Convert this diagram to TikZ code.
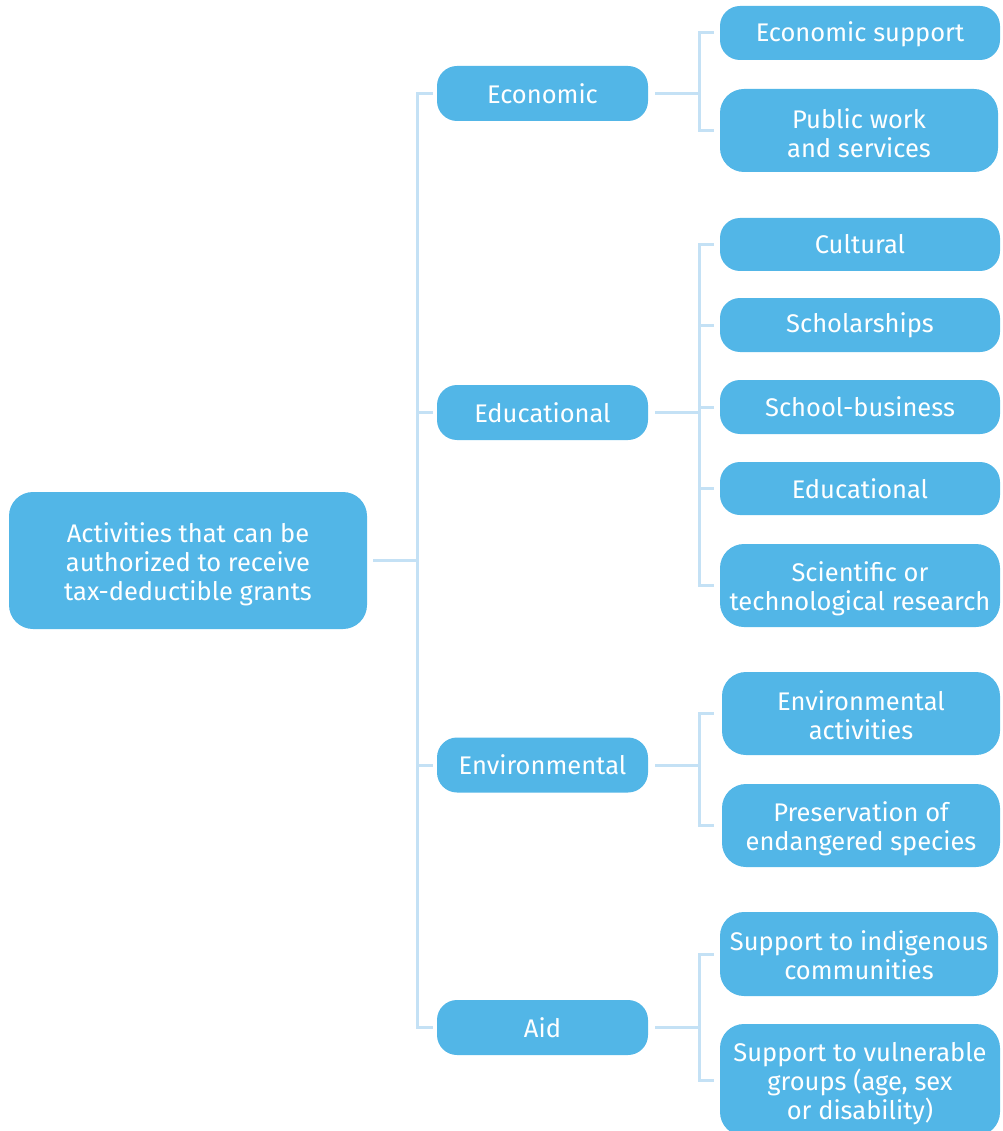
\documentclass[tikz,border=0pt]{standalone}
\usepackage{fontspec}
\setmainfont{Fira Sans}
\definecolor{boxblue}{HTML}{52B6E7}
\definecolor{linkblue}{HTML}{C4E1F5}
\newcommand\liftto[1]{\rule{0pt}{#1}}
\begin{document}
\begin{tikzpicture}[x=1pt,y=-1pt,
  box/.style={fill=boxblue, text=white, align=center, inner sep=0pt,
    font=\fontsize{25.5}{29}\selectfont, rounded corners=20pt},
  conn/.style={draw=linkblue, line width=3pt, line join=miter}]
\useasboundingbox (0,0) rectangle (1002,1131);
% root
\node[box, minimum width=358pt, minimum height=137pt, rounded corners=24pt] (root) at (188,560.5)
  {\liftto{28pt}Activities that can be\\authorized to receive\\tax-deductible grants};
% level 1
\node[box, minimum width=211pt, minimum height=55pt] (econ) at (542.5,93.5) {Economic};
\node[box, minimum width=211pt, minimum height=55pt] (edu) at (542.5,412.5) {Educational};
\node[box, minimum width=211pt, minimum height=55pt] (env) at (542.5,765) {Environmental};
\node[box, minimum width=211pt, minimum height=55pt] (aid) at (542.5,1027.5) {Aid};
% level 2
\node[box, minimum width=280pt, minimum height=54pt] (ecsup) at (860,33) {\liftto{23pt}Economic support};
\node[box, minimum width=278pt, minimum height=83pt, rounded corners=24pt] (pubw) at (859,130.5) {\liftto{25pt}Public work\\and services};
\node[box, minimum width=280pt, minimum height=53pt] (cult) at (860,244.5) {Cultural};
\node[box, minimum width=280pt, minimum height=54pt] (schol) at (860,325) {Scholarships};
\node[box, minimum width=280pt, minimum height=54pt] (schb) at (860,407) {School-business};
\node[box, minimum width=280pt, minimum height=53pt] (educ) at (860,488.5) {Educational};
\node[box, minimum width=280pt, minimum height=83pt, rounded corners=24pt] (sci) at (860,585.5) {\liftto{27pt}Scientific or\\technological research};
\node[box, minimum width=278pt, minimum height=83pt, rounded corners=24pt] (enva) at (861,713.5) {\liftto{23pt}Environmental\\activities};
\node[box, minimum width=278pt, minimum height=83pt, rounded corners=24pt] (pres) at (861,825.5) {\liftto{27pt}Preservation of\\endangered species};
\node[box, minimum width=278pt, minimum height=84pt, rounded corners=24pt] (indig) at (859,954) {\liftto{23pt}Support to indigenous\\communities};
\node[box, minimum width=280pt, minimum height=112pt, rounded corners=24pt] (vuln) at (860,1080) {\liftto{27pt}Support to vulnerable\\groups (age, sex\\or disability)};
% connector coordinates
\coordinate (tx) at (417,0);
\coordinate (bx) at (699,0);
% trunk
\draw[conn] ([xshift=6pt]root.east) -- (root.east -| tx);
\draw[conn] ([xshift=-4pt]econ.west) -- (econ.west -| tx) -- (aid.west -| tx) -- ([xshift=-4pt]aid.west);
\draw[conn] ([xshift=-4pt]edu.west) -- (edu.west -| tx);
\draw[conn] ([xshift=-4pt]env.west) -- (env.west -| tx);
% economic
\draw[conn] ([xshift=7pt]econ.east) -- (econ.east -| bx);
\draw[conn] ([xshift=-6pt]ecsup.west) -- (ecsup.west -| bx) -- (pubw.west -| bx) -- ([xshift=-6pt]pubw.west);
% educational
\draw[conn] ([xshift=7pt]edu.east) -- (edu.east -| bx);
\draw[conn] ([xshift=-6pt]cult.west) -- (cult.west -| bx) -- (sci.west -| bx) -- ([xshift=-6pt]sci.west);
\draw[conn] ([xshift=-6pt]schol.west) -- (schol.west -| bx);
\draw[conn] ([xshift=-6pt]schb.west) -- (schb.west -| bx);
\draw[conn] ([xshift=-6pt]educ.west) -- (educ.west -| bx);
% environmental
\draw[conn] ([xshift=7pt]env.east) -- (env.east -| bx);
\draw[conn] ([xshift=-8pt]enva.west) -- (enva.west -| bx) -- (pres.west -| bx) -- ([xshift=-8pt]pres.west);
% aid
\draw[conn] ([xshift=7pt]aid.east) -- (aid.east -| bx);
\draw[conn] ([xshift=-6pt]indig.west) -- (indig.west -| bx) -- (vuln.west -| bx) -- ([xshift=-6pt]vuln.west);
\end{tikzpicture}
\end{document}
